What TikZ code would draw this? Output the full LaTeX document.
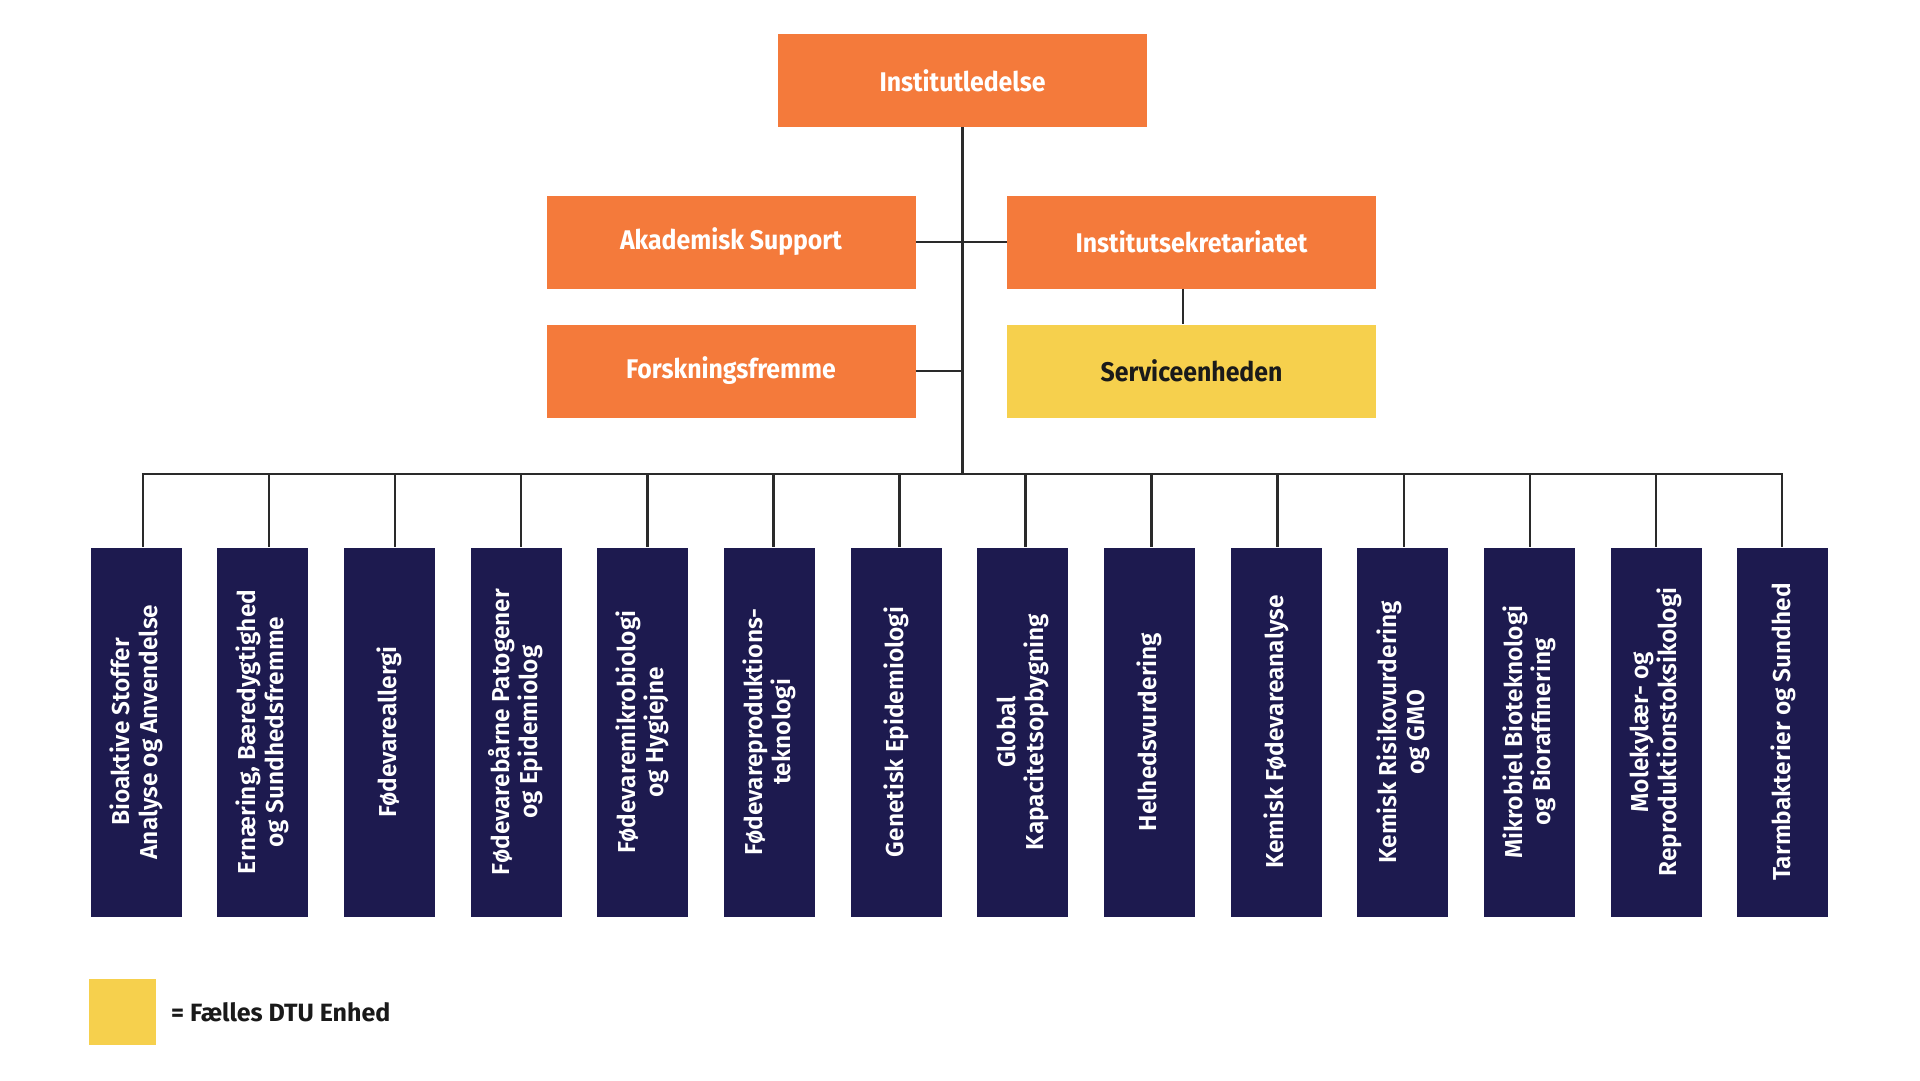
\documentclass[tikz,border=0pt]{standalone}
\usepackage{fontspec}
\setmainfont{Fira Sans}
\newfontfamily\condfont{Fira Sans}[FakeStretch=0.92]
\newfontfamily\semifont{Fira Sans SemiBold}
\definecolor{dtuorange}{HTML}{F47A3B}
\definecolor{dtuyellow}{HTML}{F6D04D}
\definecolor{dtunavy}{HTML}{1D1A4F}
\definecolor{linegray}{HTML}{2A2A2A}
\definecolor{darktext}{HTML}{1A1A1A}
\tikzset{
  orangebox/.style={rectangle, fill=dtuorange, draw=none, inner sep=0pt,
    minimum width=369pt, minimum height=93pt, text=white,
    font=\condfont\bfseries\fontsize{27}{32}\selectfont},
  yellowbox/.style={orangebox, fill=dtuyellow, text=darktext},
  navybox/.style={rectangle, fill=dtunavy, draw=none, inner sep=0pt,
    minimum width=91pt, minimum height=369pt},
  vlabel/.style={rotate=90, align=center, text=white, inner sep=0pt,
    font=\semifont\fontsize{24.5}{28}\selectfont},
  conn/.style={draw=linegray, line width=2.5pt}
}
\begin{document}
\begin{tikzpicture}[x=1pt,y=-1pt]
\useasboundingbox[fill=white] (0,0) rectangle (1920,1080);

% top boxes
\node[orangebox] (top) at (962.5,80.5) {Institutledelse};
\node[orangebox] (aka) at (731,242) {Akademisk Support};
\node[orangebox] (sek) at (1191.5,242) {Institutsekretariatet};
\node[orangebox] (forsk) at (731,371) {Forskningsfremme};
\node[yellowbox] (serv) at (1191.5,371) {Serviceenheden};

% bus coordinates
\foreach \i in {0,...,13} {
  \coordinate (d\i) at ({143+\i*126.077},474);
}

% bottom boxes
\foreach \i/\txt in {
  0/{Bioaktive Stoffer\\Analyse og Anvendelse},
  1/{Ernæring, Bæredygtighed\\og Sundhedsfremme},
  2/{Fødevareallergi},
  3/{Fødevarebårne Patogener\\og Epidemiolog},
  4/{Fødevaremikrobiologi\\og Hygiejne},
  5/{Fødevareproduktions-\\teknologi},
  6/{Genetisk Epidemiologi},
  7/{Global\\Kapacitetsopbygning},
  8/{Helhedsvurdering},
  9/{Kemisk Fødevareanalyse},
  10/{Kemisk Risikovurdering\\og GMO},
  11/{Mikrobiel Bioteknologi\\og Bioraffinering},
  12/{Molekylær- og\\Reproduktionstoksikologi},
  13/{Tarmbakterier og Sundhed}} {
  \node[navybox] (b\i) at ({136+\i*126.69},732) {};
  \node[vlabel] (t\i) at (b\i.center) {\txt};
}

% connectors
\draw[conn] (top.south) -- (top.south |- d0);
\draw[conn] (aka.east) -- (sek.west);
\draw[conn] (forsk.east) -- (forsk.east -| top.south);
\draw[conn] ([xshift=-8.5pt]sek.south) -- ([xshift=-8.5pt]serv.north);
\draw[conn] ([xshift=-1.25pt]d0) -- ([xshift=1.25pt]d13);
\foreach \i in {0,...,13} {
  \draw[conn] (d\i) -- (d\i |- b\i.north);
}

% legend
\node[rectangle, fill=dtuyellow, minimum width=67pt, minimum height=66pt, inner sep=0pt] (leg) at (122.8,1012.3) {};
\node[anchor=west, inner sep=0pt, text=darktext, font=\bfseries\fontsize{25}{29}\selectfont] (legtxt) at (171,1012) {= Fælles DTU Enhed};
\end{tikzpicture}
\end{document}
